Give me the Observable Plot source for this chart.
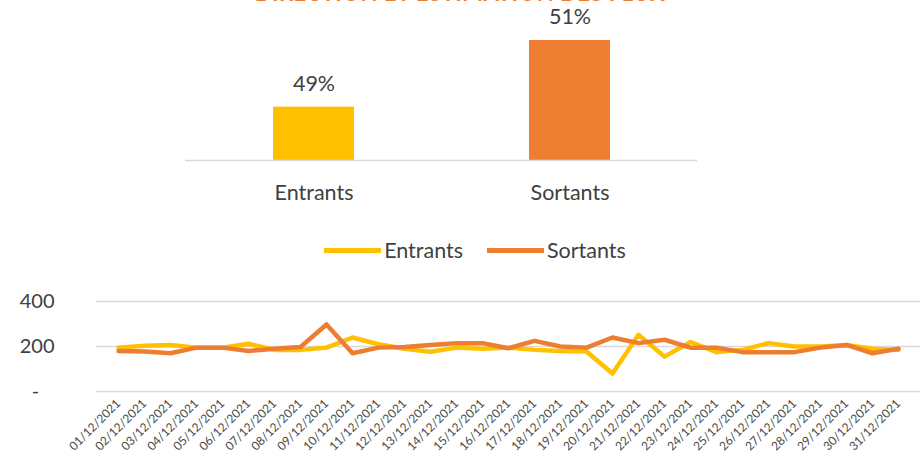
<!DOCTYPE html>
<html>
<head>
<meta charset="utf-8">
<script src="https://cdn.jsdelivr.net/npm/d3@7"></script>
<script src="https://cdn.jsdelivr.net/npm/@observablehq/plot@0.6"></script>
<style>
  html, body { margin: 0; padding: 0; background: #fff; }
  body { width: 920px; height: 454px; position: relative; overflow: hidden; font-family: Lato, "Open Sans", sans-serif; }
  #title { position: absolute; left: 0; width: 920px; top: -17px; height: 20px; line-height: 20px; text-align: center; color: #ED7D31; font-weight: 700; font-size: 22px; letter-spacing: 0.5px; white-space: nowrap; }
  #bars { position: absolute; left: 0; top: 0; }
  #legend { position: absolute; left: 15px; width: 920px; top: 237px; display: flex; justify-content: center; align-items: center; font-size: 21.5px; color: #404040; }
  .item { display: flex; align-items: center; margin: 0 12px; }
  .sw { width: 57px; height: 5px; margin-right: 3px; }
  #lines { position: absolute; left: 0; top: 280px; }
</style>
</head>
<body>
<div id="title">DIRECTION ET ESTIMATION DES FLUX</div>
<div id="bars"></div>
<div id="legend"></div>
<div id="lines"></div>
<script>
// ---- data ----
const barCategories = ["Entrants", "Sortants"];
const barValues = [49, 51];
const barAxisMin = 47.4;

const seriesNames = ["Entrants", "Sortants"];
const seriesColors = ["#FFC000", "#ED7D31"];

const dates = [
  "01/12/2021","02/12/2021","03/12/2021","04/12/2021","05/12/2021","06/12/2021","07/12/2021","08/12/2021",
  "09/12/2021","10/12/2021","11/12/2021","12/12/2021","13/12/2021","14/12/2021","15/12/2021","16/12/2021",
  "17/12/2021","18/12/2021","19/12/2021","20/12/2021","21/12/2021","22/12/2021","23/12/2021","24/12/2021",
  "25/12/2021","26/12/2021","27/12/2021","28/12/2021","29/12/2021","30/12/2021","31/12/2021"
];
const entrants = [195, 203, 207, 195, 195, 212, 185, 185, 195, 240, 210, 190, 177, 195, 190, 195,
                  185, 180, 178, 80, 252, 155, 220, 175, 185, 215, 200, 200, 207, 190, 185];
const sortants = [180, 178, 170, 195, 195, 180, 190, 198, 298, 170, 195, 198, 207, 215, 215, 192,
                  225, 200, 195, 240, 215, 230, 195, 195, 175, 175, 175, 195, 207, 170, 190];
const yTicks = [0, 200, 400];

// ---- bar chart ----
const barData = barCategories.map((c, i) => ({cat: c, v: barValues[i]}));
const barColor = {Entrants: seriesColors[0], Sortants: seriesColors[1]};
const bars = Plot.plot({
  width: 920, height: 215,
  marginLeft: 185, marginRight: 223, marginTop: 40, marginBottom: 55,
  style: {fontFamily: "Lato, 'Open Sans', sans-serif", color: "#404040", background: "transparent"},
  x: {type: "band", domain: barCategories, paddingInner: 0.684, paddingOuter: 0.342, label: null},
  y: {domain: [barAxisMin, 51], axis: null},
  marks: [
    Plot.rectY(barData, {x: "cat", y1: () => barAxisMin, y2: "v", fill: d => barColor[d.cat]}),
    Plot.ruleY([barAxisMin], {stroke: "#d9d9d9", strokeWidth: 1.3}),
    Plot.text(barData, {x: "cat", y: "v", text: d => d.v + "%", dy: -23, fontSize: 21.5, fill: "#404040"}),
    Plot.axisX({tickSize: 0, tickPadding: 24, fontSize: 21.5, fill: "#404040", label: null})
  ]
});
document.getElementById("bars").appendChild(bars);

// ---- legend ----
const legend = document.getElementById("legend");
seriesNames.forEach((n, i) => {
  const it = document.createElement("div");
  it.className = "item";
  const sw = document.createElement("div");
  sw.className = "sw";
  sw.style.background = seriesColors[i];
  const t = document.createElement("span");
  t.textContent = n;
  it.appendChild(sw); it.appendChild(t);
  legend.appendChild(it);
});

// ---- line chart ----
const rows = [];
dates.forEach((d, i) => rows.push({date: d, value: entrants[i], s: "Entrants"}));
dates.forEach((d, i) => rows.push({date: d, value: sortants[i], s: "Sortants"}));

const lines = Plot.plot({
  width: 920, height: 174,
  marginLeft: 96, marginRight: 0, marginTop: 21, marginBottom: 63,
  style: {fontFamily: "Lato, 'Open Sans', sans-serif", background: "transparent"},
  x: {type: "point", domain: dates, padding: 0.5, label: null},
  y: {domain: [0, 400], label: null},
  color: {domain: seriesNames, range: seriesColors},
  marks: [
    Plot.ruleY(yTicks, {stroke: "#d9d9d9", strokeWidth: 1.3}),
    Plot.axisY(yTicks, {tickSize: 0, tickPadding: 42, fontSize: 20, fill: "#404040", label: null,
      tickFormat: d => d === 0 ? "-\u00a0\u00a0\u00a0" : String(d)}),
    Plot.axisX({tickSize: 0, tickPadding: 10, tickRotate: -45, fontSize: 12, fill: "#4a4a4a", label: null}),
    Plot.lineY(rows, {x: "date", y: "value", z: "s", stroke: "s", strokeWidth: 4.5,
      strokeLinejoin: "round", strokeLinecap: "round"})
  ]
});
document.getElementById("lines").appendChild(lines);
</script>
</body>
</html>
